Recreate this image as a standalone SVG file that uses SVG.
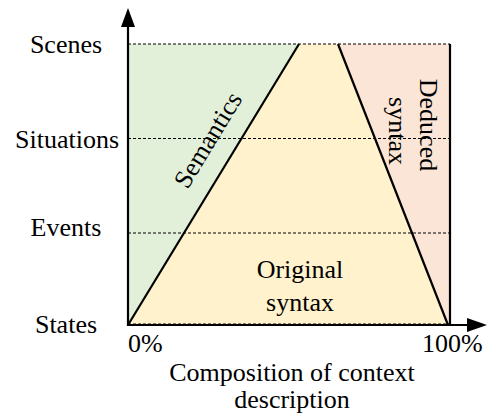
<svg xmlns="http://www.w3.org/2000/svg" width="487" height="419" viewBox="0 0 487 419">
  <style>
    text { font-family: "Liberation Serif", "Times New Roman", serif; font-size: 26px; }
    .mid { text-anchor: middle; }
    .grid { stroke: #000; stroke-width: 1.2; stroke-dasharray: 3 2; fill: none; }
    .edge { stroke: #000; stroke-width: 2.2; fill: none; }
  </style>

  <!-- regions -->
  <g id="semantics">
    <polygon points="128,44 299,44 128,325" fill="#e2efd9"/>
    <text class="mid" transform="translate(208,140) rotate(-58.7)" dominant-baseline="central">Semantics</text>
  </g>
  <g id="original-syntax">
    <polygon points="299,44 338,44 448,325 128,325" fill="#fff2cc"/>
    <text class="mid" x="300" y="278">Original</text>
    <text class="mid" x="300" y="311">syntax</text>
  </g>
  <g id="deduced-syntax">
    <polygon points="338,44 450,44 450,325 448,325" fill="#fbe5d6"/>
    <text class="mid" transform="translate(420,125) rotate(90)">Deduced</text>
    <text class="mid" transform="translate(389,131) rotate(90)">syntax</text>
  </g>

  <!-- level gridlines -->
  <g id="gridlines">
    <line class="grid" x1="128" y1="44" x2="450" y2="44"/>
    <line class="grid" x1="128" y1="138.5" x2="450" y2="138.5"/>
    <line class="grid" x1="128" y1="233" x2="450" y2="233"/>
    <line class="grid" x1="128" y1="324" x2="450" y2="324"/>
  </g>

  <!-- boundaries and axes -->
  <g id="connectors">
    <line class="edge" x1="128" y1="325" x2="299" y2="44"/>
    <line class="edge" x1="338" y1="44" x2="448" y2="325"/>
    <line class="edge" x1="450" y1="44" x2="450" y2="326"/>
    <line class="edge" x1="128" y1="326" x2="128" y2="22"/>
    <line class="edge" x1="127" y1="325" x2="470" y2="325"/>
    <polygon points="128,8 121,27 135,27" fill="#000"/>
    <polygon points="487,325 467,318 467,332" fill="#000"/>
  </g>

  <!-- axis labels -->
  <g id="y-labels">
    <text class="mid" x="66" y="53">Scenes</text>
    <text class="mid" x="67" y="148">Situations</text>
    <text class="mid" x="66" y="236">Events</text>
    <text class="mid" x="66" y="333">States</text>
  </g>
  <g id="x-labels">
    <text x="128" y="352">0%</text>
    <text x="422" y="352">100%</text>
    <text class="mid" x="292" y="381">Composition of context</text>
    <text class="mid" x="292" y="408">description</text>
  </g>
</svg>
